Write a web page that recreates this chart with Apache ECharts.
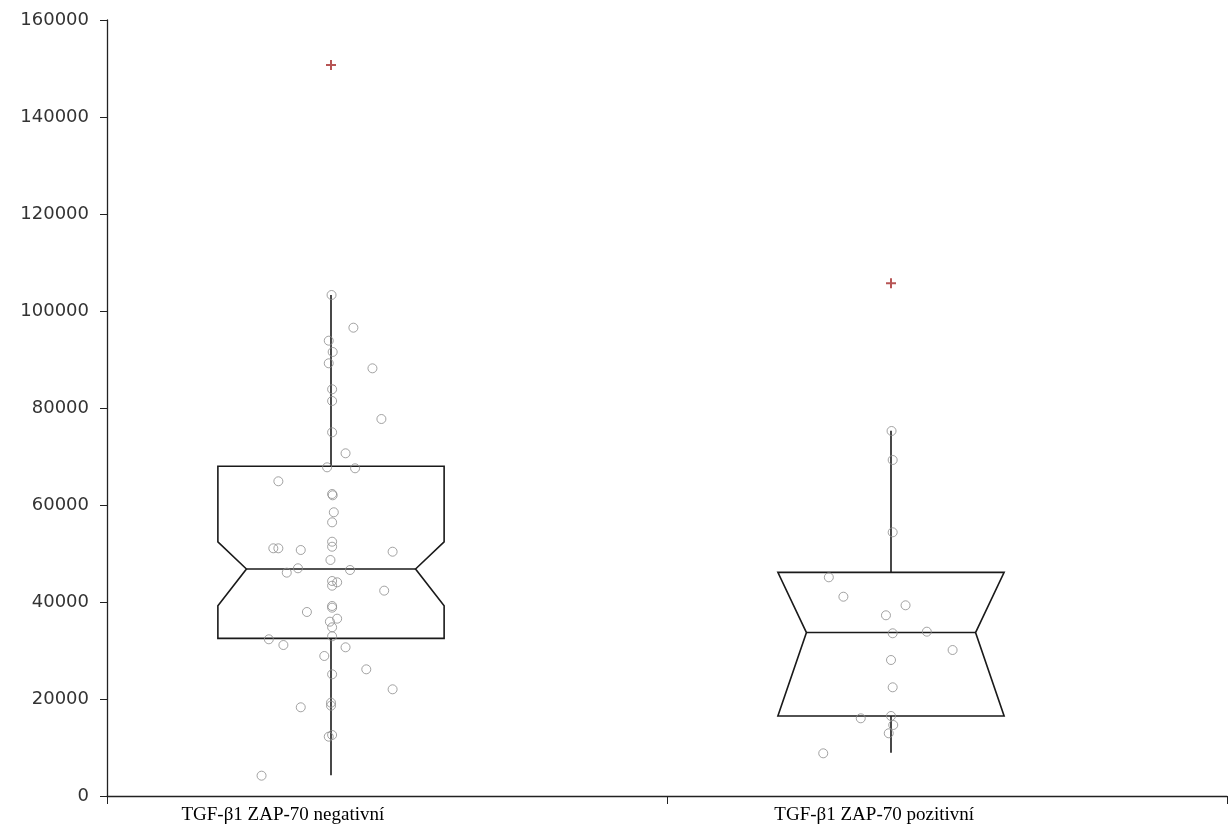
<!DOCTYPE html>
<html>
<head>
<meta charset="utf-8">
<script src="https://cdn.jsdelivr.net/npm/echarts@6/dist/echarts.min.js"></script>
<style>html,body{margin:0;padding:0;background:#fff}#c{width:1229px;height:834px}</style>
</head>
<body>
<div id="c"></div>
<script>
// Categories and tick labels
var categories = ['TGF-\u03b21 ZAP-70 negativn\u00ed', 'TGF-\u03b21 ZAP-70 pozitivn\u00ed'];
var yTicks = [0, 20000, 40000, 60000, 80000, 100000, 120000, 140000, 160000];

// Box statistics: [center x, whisker low, notch low, Q1, median, Q3, notch high, whisker high]
var boxNegativni = [0.4, 4300, 39200, 32500, 46800, 68000, 52400, 103300];
var boxPozitivni = [1.4, 8900, 16500, 16500, 33700, 46100, 46100, 75300];

// Outliers [x, value]
var outliers = [[0.4, 150700], [1.4, 105700]];

// Individual observations (jittered x, value)
var negX = [0.401,0.440,0.396,0.403,0.396,0.474,0.402,0.402,0.490,0.402,0.426,0.393,0.443,0.306,0.402,0.403,0.405,0.402,0.402,0.402,0.297,0.306,0.346,0.510,0.399,0.341,0.321,0.434,0.402,0.411,0.402,0.495,0.402,0.402,0.357,0.411,0.398,0.402,0.402,0.289,0.315,0.426,0.388,0.463,0.402,0.510,0.400,0.400,0.346,0.402,0.396,0.276];
var negY = [103300,96560,93880,91550,89220,88180,83860,81450,77730,74990,70660,67770,67570,64890,62270,62000,58500,56430,52430,51400,51070,51070,50720,50370,48660,46950,46050,46600,44330,44060,43360,42340,39180,38830,37940,36560,35940,34780,32930,32310,31130,30660,28870,26120,25090,22000,19240,18620,18290,12580,12230,4190];
var posX = [1.401,1.403,1.403,1.289,1.315,1.426,1.391,1.403,1.464,1.510,1.400,1.403,1.346,1.400,1.404,1.396,1.279];
var posY = [75260,69280,54370,45090,41090,39320,37260,33550,33880,30100,28040,22410,16020,16500,14640,12930,8800];

function zip(xs, ys){ return xs.map(function(x,i){ return [x, ys[i]]; }); }

var chart = echarts.init(document.getElementById('c'));
var lineColor = '#1a1a1a';

function renderBox(params, api){
  var x = api.value(0);
  var lo = api.value(1), nLo = api.value(2), q1 = api.value(3), med = api.value(4),
      q3 = api.value(5), nHi = api.value(6), hi = api.value(7);
  var w = 0.202, wn = 0.151;
  function p(dx, v){ return api.coord([x + dx, v]); }
  var pts = [p(-w,q3), p(w,q3), p(w,nHi), p(wn,med), p(w,nLo), p(w,q1), p(-w,q1), p(-w,nLo), p(-wn,med), p(-w,nHi)];
  var style = {stroke: lineColor, lineWidth: 1.6, fill: null};
  var c = p(0, 0)[0];
  return {
    type: 'group',
    children: [
      {type: 'polygon', shape: {points: pts}, style: style},
      {type: 'line', shape: {x1: p(-wn,med)[0], y1: p(0,med)[1], x2: p(wn,med)[0], y2: p(0,med)[1]}, style: style},
      {type: 'line', shape: {x1: c, y1: p(0,q3)[1], x2: c, y2: p(0,hi)[1]}, style: style},
      {type: 'line', shape: {x1: c, y1: p(0,q1)[1], x2: c, y2: p(0,lo)[1]}, style: style}
    ]
  };
}

var labelPos = [0.314, 1.37];

chart.setOption({
  animation: false,
  backgroundColor: '#fff',
  grid: {left: 107, right: 2, top: 20, bottom: 38, containLabel: false},
  xAxis: {
    type: 'value', min: 0, max: 2,
    splitLine: {show: false},
    axisLine: {show: true, lineStyle: {color: '#222', width: 1.3}},
    axisTick: {show: true, length: 8, customValues: [0, 1, 2], lineStyle: {color: '#222'}},
    axisLabel: {
      customValues: labelPos,
      margin: 10,
      fontFamily: 'Liberation Serif',
      fontSize: 19,
      color: '#000',
      formatter: function(v){ return v < 1 ? categories[0] : categories[1]; }
    }
  },
  yAxis: {
    type: 'value', min: yTicks[0], max: yTicks[yTicks.length-1], interval: yTicks[1]-yTicks[0],
    splitLine: {show: false},
    axisLine: {show: true, lineStyle: {color: '#222', width: 1.3}},
    axisTick: {show: true, length: 7, lineStyle: {color: '#222'}},
    axisLabel: {margin: 18, fontFamily: 'DejaVu Sans', fontSize: 18, color: '#333',
      formatter: function(v){ return String(v); }}
  },
  series: [
    {type: 'custom', renderItem: renderBox, data: [boxNegativni, boxPozitivni], z: 2,
     encode: {x: 0, y: [1,2,3,4,5,6,7]}},
    {type: 'scatter', data: zip(negX, negY).concat(zip(posX, posY)), symbol: 'circle', symbolSize: 9, z: 3,
     itemStyle: {color: 'rgba(255,255,255,0)', borderColor: '#8c8c8c', borderWidth: 1}},
    {type: 'scatter', data: outliers, symbol: 'path://M4,0H6V4H10V6H6V10H4V6H0V4H4Z', symbolSize: 10, z: 4,
     itemStyle: {color: '#a52a2a'}}
  ]
});
</script>
</body>
</html>
